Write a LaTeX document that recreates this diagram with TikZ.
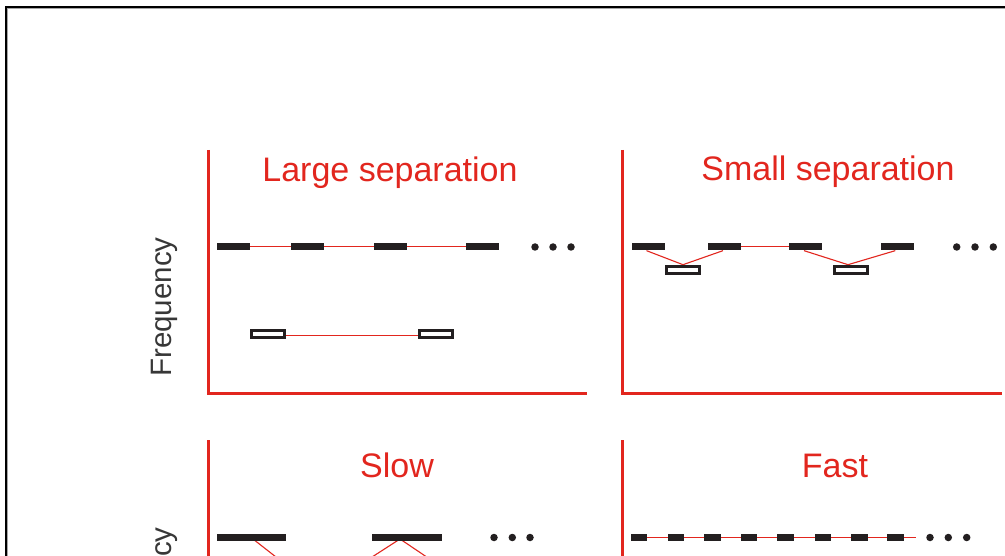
\documentclass[tikz,border=0pt]{standalone}
\usepackage{fontspec}
\setmainfont{Liberation Sans}
\usetikzlibrary{backgrounds}
\definecolor{axred}{RGB}{226,38,30}
\definecolor{barblk}{RGB}{35,31,32}
\definecolor{lblgray}{RGB}{55,55,55}
\tikzset{
  axis/.style={draw=axred, line width=3pt},
  link/.style={draw=axred, line width=1.1pt},
  fullbar/.style={rectangle, fill=barblk, inner sep=0pt, minimum width=#1, minimum height=7.5pt},
  fullbar/.default=33pt,
  fastbar/.style={rectangle, fill=barblk, inner sep=0pt, minimum width=16.5pt, minimum height=7pt},
  openbar/.style={rectangle, draw=barblk, fill=white, line width=3.3pt, inner sep=0pt, minimum width=33pt, minimum height=7.3pt},
  dotmark/.style={circle, fill=barblk, inner sep=0pt, minimum size=7.5pt},
  paneltitle/.style={text=axred, font=\fontsize{34}{36}\selectfont, anchor=base, inner sep=0pt},
  ylabel/.style={text=lblgray, font=\fontsize{29.5}{32}\selectfont, rotate=90, inner sep=0pt},
}
\begin{document}
\begin{tikzpicture}[x=1pt, y=-1pt]
\useasboundingbox (0,0) rectangle (1005,556);
\clip (0,0) rectangle (1005,556);
\begin{scope}[on background layer]
\fill[white] (0,0) rectangle (1005,556);
\end{scope}
% frame
\draw[black!35, line width=1pt] (7.8,8.3) -- (7.8,700) (7.8,8.3) -- (1100,8.3);
\draw[black, line width=2pt] (6,700) -- (6,6.8) -- (1100,6.8);

% ---------- Panel 1: Large separation ----------
\coordinate (p1top) at (208,150);
\coordinate (p1org) at (208,393);
\coordinate (p1end) at (587,393);
\draw[axis] (p1top) -- (p1org) -- (p1end);
\node[paneltitle] (t1) at (390,181.7) {Large separation};
\node[ylabel] (y1) at (164.5,307) {Frequency};
\node[fullbar] (a1) at (233,246.7) {};
\node[fullbar] (a2) at (307.3,246.7) {};
\node[fullbar] (a3) at (390,246.7) {};
\node[fullbar] (a4) at (482.3,246.7) {};
\node[dotmark] (ad1) at (535,247) {};
\node[dotmark] (ad2) at (553,247) {};
\node[dotmark] (ad3) at (571,247) {};
\node[openbar] (ao1) at (268.2,334) {};
\node[openbar] (ao2) at (436,334) {};
\begin{scope}[on background layer]
  \draw[link] (a1.center) -- (a4.center);
  \draw[link] ([yshift=-1.5pt]ao1.center) -- ([yshift=-1.5pt]ao2.center);
\end{scope}

% ---------- Panel 2: Small separation ----------
\coordinate (p2top) at (622.7,150);
\coordinate (p2org) at (622.7,393);
\coordinate (p2end) at (1002,393);
\draw[axis] (p2top) -- (p2org) -- (p2end);
\node[paneltitle] (t2) at (828,180.7) {Small separation};
\node[fullbar] (b1) at (648,246.7) {};
\node[fullbar] (b2) at (724,246.7) {};
\node[fullbar] (b3) at (805.5,246.7) {};
\node[fullbar] (b4) at (897.3,246.7) {};
\node[dotmark] (bd1) at (956.7,247) {};
\node[dotmark] (bd2) at (975,247) {};
\node[dotmark] (bd3) at (993.3,247) {};
\node[openbar] (bo1) at (683,270) {};
\node[openbar] (bo2) at (851,270) {};
\begin{scope}[on background layer]
  \draw[link] ([xshift=-1.5pt]b1.south) -- (bo1.north) -- ([xshift=-1pt]b2.south);
  \draw[link] (b2.center) -- (b3.center);
  \draw[link] ([xshift=-1.5pt]b3.south) -- ([xshift=-3pt]bo2.north) -- ([xshift=-2pt]b4.south);
\end{scope}

% ---------- Panel 3: Slow ----------
\coordinate (p3top) at (208,440);
\coordinate (p3org) at (208,683);
\draw[axis] (p3top) -- (p3org);
\node[paneltitle] (t3) at (397,477.3) {Slow};
\node[ylabel] (y3) at (164.5,597) {Frequency};
\node[fullbar=69.3pt] (c1) at (251.3,537.3) {};
\node[fullbar=70pt] (c2) at (406.7,537.3) {};
\node[dotmark] (cd1) at (494,537.5) {};
\node[dotmark] (cd2) at (512.3,537.5) {};
\node[dotmark] (cd3) at (530,537.5) {};
\coordinate (cx1) at (290,568);
\coordinate (cx2) at (355,568);
\coordinate (cx3) at (443,568);
\begin{scope}[on background layer]
  \draw[link] (251.7,538) -- (cx1);
  \draw[link] (cx2) -- (400,539) -- (cx3);
\end{scope}

% ---------- Panel 4: Fast ----------
\coordinate (p4top) at (622.7,440);
\coordinate (p4org) at (622.7,683);
\draw[axis] (p4top) -- (p4org);
\node[paneltitle] (t4) at (835,477.3) {Fast};
\node[fastbar] (f1) at (639.2,537.3) {};
\node[fastbar] (f2) at (676,537.3) {};
\node[fastbar] (f3) at (712.3,537.3) {};
\node[fastbar] (f4) at (749,537.3) {};
\node[fastbar] (f5) at (785.5,537.3) {};
\node[fastbar] (f6) at (823,537.3) {};
\node[fastbar] (f7) at (859.7,537.3) {};
\node[fastbar] (f8) at (895.7,537.3) {};
\coordinate (fend) at (916,537.3);
\node[dotmark] (fd1) at (930,537.5) {};
\node[dotmark] (fd2) at (948.3,537.5) {};
\node[dotmark] (fd3) at (966.7,537.5) {};
\begin{scope}[on background layer]
  \draw[link] (f1.center) -- (fend);
\end{scope}
\end{tikzpicture}
\end{document}
